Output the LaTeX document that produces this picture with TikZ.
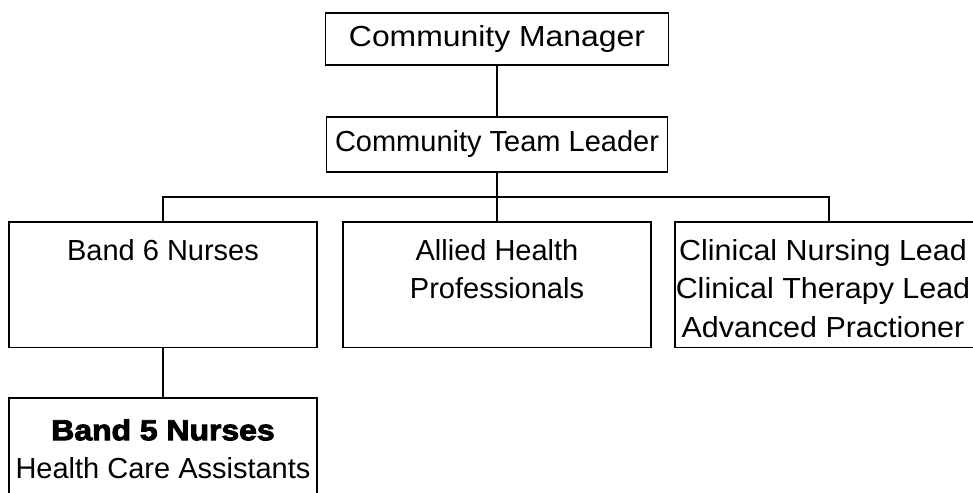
\documentclass[tikz,border=0pt]{standalone}
\usepackage{fontspec}
\setmainfont{Liberation Sans}
\newfontfamily\heavy{Liberation Sans}[FakeBold=3]
\begin{document}
\begin{tikzpicture}[x=1pt,y=-1pt,
  box/.style={draw=black,line width=1.8pt,rectangle,inner sep=0pt},
  txt/.style={inner sep=0pt,align=center,font=\fontsize{29}{38.5}\selectfont},
  conn/.style={draw=black,line width=1.8pt}]
\useasboundingbox (0,0) rectangle (973,492);
\clip (0,0) rectangle (973,492);
% boxes
\node[box,minimum width=343pt,minimum height=52pt] (mgr) at (497,39) {};
\node[box,minimum width=341pt,minimum height=55pt] (tl) at (497,144.5) {};
\node[box,minimum width=308pt,minimum height=125.5pt] (b6) at (163,284.75) {};
\node[box,minimum width=308pt,minimum height=125.5pt] (ahp) at (497,284.75) {};
\node[box,minimum width=308pt,minimum height=125.5pt] (cl) at (829,284.75) {};
\node[box,minimum width=308pt,minimum height=125pt] (b5) at (163,460.5) {};
% texts
\node[txt] (mgrt) at (mgr.center) {\scalebox{1.1}[1]{Community Manager}};
\node[txt] (tlt) at (tl.center) {Community Team Leader};
\node[txt,anchor=north] (b6t) at (163,239) {Band 6 Nurses};
\node[txt,anchor=north] (ahpt) at (497,239) {Allied Health\\Professionals};
\node[txt,anchor=north] (clt) at (823,239) {\scalebox{1.05}[1]{Clinical Nursing Lead}\\\scalebox{1.05}[1]{Clinical Therapy Lead}\\\scalebox{1.05}[1]{Advanced Practioner}};
\node[txt,anchor=north] (b5t) at (163,419) {\scalebox{1.1}[1]{\heavy\bfseries Band 5 Nurses}\\Health Care Assistants};
% connectors
\coordinate (bus) at (497,197);
\draw[conn] (mgr.south) -- (tl.north);
\draw[conn] (tl.south) -- (bus);
\draw[conn] (b6.north) |- (bus) -| (cl.north);
\draw[conn] (bus) -- (ahp.north);
\draw[conn] (b6.south) -- (b5.north);
\end{tikzpicture}
\end{document}
